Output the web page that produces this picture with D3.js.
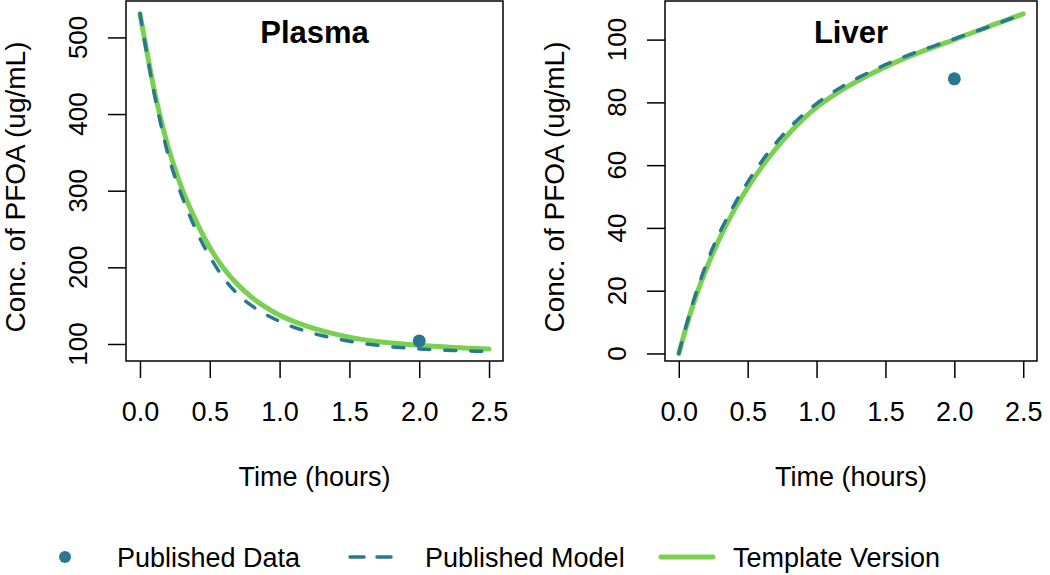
<!DOCTYPE html>
<html>
<head>
<meta charset="utf-8">
<script src="https://cdn.jsdelivr.net/npm/d3@7"></script>
<style>
  body { margin: 0; background: #fff; }
  text { font-family: "Liberation Sans", Arial, sans-serif; fill: #000; }
</style>
</head>
<body>
<figure id="pk-chart" style="margin:0"></figure>
<script>
// time points (hours)
var times = [0, 0.05, 0.1, 0.15, 0.2, 0.25, 0.3, 0.4, 0.5, 0.6, 0.7, 0.8, 0.9, 1.0,
             1.1, 1.2, 1.3, 1.4, 1.5, 1.6, 1.7, 1.8, 1.9, 2.0, 2.1, 2.2, 2.3, 2.4, 2.5];

// plasma (ug/mL)
var plasmaModel = [531, 478, 429, 386, 348, 318, 293, 249, 214, 186, 165, 150, 138.5, 129.5,
                   122, 116, 111, 107, 103.5, 100.5, 98.3, 96.4, 94.9, 93.6, 92.6, 91.8, 91.1, 90.6, 90.2];
var plasmaTemplate = [531, 481, 433, 393, 358, 329, 303, 261, 226, 198.5, 177.5, 161, 148, 137.5,
                      129.5, 123, 117.5, 112.8, 108.8, 105.7, 103.2, 101.2, 99.6, 98.3, 97.1, 96, 95, 94.1, 93.3];

// liver (ug/mL)
var liverModel = [0, 8.2, 15.8, 22.5, 28.5, 34, 38.8, 47.2, 54.6, 61.1, 66.8, 71.7, 76, 79.6,
                  82.7, 85.4, 87.8, 90, 92, 93.9, 95.6, 97.2, 98.7, 100.2, 101.8, 103.3, 104.9, 106.5, 108];
var liverTemplate = [0, 7.8, 15, 21.3, 27, 32.2, 37, 45.5, 52.8, 59.3, 65, 70.1, 74.6, 78.4,
                     81.6, 84.4, 86.9, 89.2, 91.3, 93.3, 95.1, 96.8, 98.4, 100, 101.7, 103.3, 105, 106.6, 108.2];

// published measurements
var dataTimes = [2.0];
var plasmaData = [104];
var liverData = [87.5];

// tick labels
var timeTicks = [0, 0.5, 1.0, 1.5, 2.0, 2.5];
var plasmaTicks = [100, 200, 300, 400, 500];
var liverTicks = [0, 20, 40, 60, 80, 100];

var panelTitles = ["Plasma", "Liver"];
var legendLabels = ["Published Data", "Published Model", "Template Version"];

var teal = "#2A788E", green = "#7AD151";

var svg = d3.select("figure#pk-chart")
  .append("svg")
    .attr("width", 1050)
    .attr("height", 575);

var panels = [
  {left: 126, right: 503, ydom: [77.8, 547.5], ticks: plasmaTicks,
   model: plasmaModel, template: plasmaTemplate, obs: plasmaData, title: panelTitles[0]},
  {left: 665, right: 1037, ydom: [-2.4, 112.3], ticks: liverTicks,
   model: liverModel, template: liverTemplate, obs: liverData, title: panelTitles[1]}
];
var boxTop = 1, boxBottom = 361;

panels.forEach(function(p) {
  var x = d3.scaleLinear().domain([-0.1, 2.6]).range([p.left, p.right]);
  var y = d3.scaleLinear().domain(p.ydom).range([boxBottom, boxTop]);
  var g = svg.append("g");

  // x axis
  g.append("g")
    .attr("transform", "translate(0," + boxBottom + ")")
    .call(d3.axisBottom(x)
      .tickValues(timeTicks)
      .tickSize(17)
      .tickSizeOuter(0)
      .tickFormat(d3.format(".1f")))
    .call(function(a) {
      a.select(".domain").remove();
      a.selectAll("line").attr("stroke", "#000").attr("stroke-width", 1.5);
      a.selectAll("text").attr("y", 60).attr("dy", 0)
        .style("font-size", "27px").style("font-family", "Liberation Sans, Arial, sans-serif");
    });

  // y axis (labels rotated like base R)
  g.append("g")
    .attr("transform", "translate(" + p.left + ",0)")
    .call(d3.axisLeft(y)
      .tickValues(p.ticks)
      .tickSize(18)
      .tickSizeOuter(0)
      .tickFormat(""))
    .call(function(a) {
      a.select(".domain").remove();
      a.selectAll("line").attr("stroke", "#000").attr("stroke-width", 1.5);
    });
  g.selectAll("text.ylab")
    .data(p.ticks)
    .join("text")
      .attr("class", "ylab")
      .attr("transform", function(d) { return "translate(" + (p.left - 39) + "," + y(d) + ") rotate(-90)"; })
      .attr("text-anchor", "middle")
      .style("font-size", "26px")
      .text(function(d) { return d; });

  // axis titles
  g.append("text")
    .attr("x", (p.left + p.right) / 2)
    .attr("y", 486)
    .attr("text-anchor", "middle")
    .style("font-size", "27px")
    .text("Time (hours)");
  g.append("text")
    .attr("transform", "translate(" + (p.left - 101) + "," + ((boxTop + boxBottom) / 2 + 6) + ") rotate(-90)")
    .attr("text-anchor", "middle")
    .style("font-size", "28px")
    .text("Conc. of PFOA (ug/mL)");

  // panel title
  g.append("text")
    .attr("x", (p.left + p.right) / 2)
    .attr("y", 43)
    .attr("text-anchor", "middle")
    .style("font-size", "31px")
    .style("font-weight", "bold")
    .text(p.title);

  var line = d3.line()
    .x(function(d, i) { return x(times[i]); })
    .y(function(d) { return y(d); })
    .curve(d3.curveMonotoneX);

  // template version (solid green) then published model (dashed) on top
  g.append("path")
    .datum(p.template)
    .attr("fill", "none")
    .attr("stroke", green)
    .attr("stroke-width", 5)
    .attr("stroke-linecap", "round")
    .attr("d", line);

  g.append("path")
    .datum(p.model)
    .attr("fill", "none")
    .attr("stroke", teal)
    .attr("stroke-width", 3.5)
    .attr("stroke-linecap", "round")
    .attr("stroke-dasharray", "11,15")
    .attr("d", line);

  g.selectAll("circle.obs")
    .data(p.obs)
    .join("circle")
      .attr("class", "obs")
      .attr("cx", function(d, i) { return x(dataTimes[i]); })
      .attr("cy", function(d) { return y(d); })
      .attr("r", 6.5)
      .attr("fill", teal);

  // plot box
  g.append("rect")
    .attr("x", p.left)
    .attr("y", boxTop)
    .attr("width", p.right - p.left)
    .attr("height", boxBottom - boxTop)
    .attr("fill", "none")
    .attr("stroke", "#000")
    .attr("stroke-width", 1.5);
});

// legend along the bottom
var leg = svg.append("g");
var ly = 557;
leg.append("circle").attr("cx", 65).attr("cy", ly).attr("r", 6).attr("fill", teal);
leg.append("line")
  .attr("x1", 350).attr("x2", 393).attr("y1", ly).attr("y2", ly)
  .attr("stroke", teal).attr("stroke-width", 3.5)
  .attr("stroke-linecap", "round").attr("stroke-dasharray", "14,13");
leg.append("line")
  .attr("x1", 661).attr("x2", 713).attr("y1", ly).attr("y2", ly)
  .attr("stroke", green).attr("stroke-width", 5).attr("stroke-linecap", "round");
leg.selectAll("text")
  .data(legendLabels)
  .join("text")
    .attr("x", function(d, i) { return [117, 425, 733][i]; })
    .attr("y", ly + 10)
    .style("font-size", "27px")
    .text(function(d) { return d; });
</script>
</body>
</html>
